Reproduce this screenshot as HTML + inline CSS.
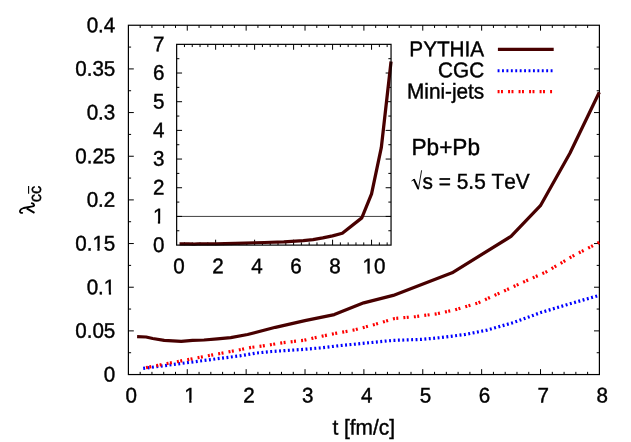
<!DOCTYPE html>
<html><head><meta charset="utf-8"><title>plot</title>
<style>html,body{margin:0;padding:0;background:#fff;}svg{display:block;will-change:transform;}text{font-family:"Liberation Sans",sans-serif;fill:#000;font-kerning:none;}</style></head><body>
<svg width="631" height="442" viewBox="0 0 631 442">
<rect x="0" y="0" width="631" height="442" fill="#ffffff"/>
<path d="M187.28 374.55v-5.4M187.28 25.25v5.4M246.15 374.55v-5.4M246.15 25.25v5.4M305.02 374.55v-5.4M305.02 25.25v5.4M363.90 374.55v-5.4M363.90 25.25v5.4M422.77 374.55v-5.4M422.77 25.25v5.4M481.65 374.55v-5.4M481.65 25.25v5.4M540.52 374.55v-5.4M540.52 25.25v5.4M140.18 374.55v-2.7M140.18 25.25v2.7M151.95 374.55v-2.7M151.95 25.25v2.7M163.73 374.55v-2.7M163.73 25.25v2.7M175.50 374.55v-2.7M175.50 25.25v2.7M199.05 374.55v-2.7M199.05 25.25v2.7M210.83 374.55v-2.7M210.83 25.25v2.7M222.60 374.55v-2.7M222.60 25.25v2.7M234.38 374.55v-2.7M234.38 25.25v2.7M257.93 374.55v-2.7M257.93 25.25v2.7M269.70 374.55v-2.7M269.70 25.25v2.7M281.48 374.55v-2.7M281.48 25.25v2.7M293.25 374.55v-2.7M293.25 25.25v2.7M316.80 374.55v-2.7M316.80 25.25v2.7M328.58 374.55v-2.7M328.58 25.25v2.7M340.35 374.55v-2.7M340.35 25.25v2.7M352.12 374.55v-2.7M352.12 25.25v2.7M375.68 374.55v-2.7M375.68 25.25v2.7M387.45 374.55v-2.7M387.45 25.25v2.7M399.23 374.55v-2.7M399.23 25.25v2.7M411.00 374.55v-2.7M411.00 25.25v2.7M434.55 374.55v-2.7M434.55 25.25v2.7M446.33 374.55v-2.7M446.33 25.25v2.7M458.10 374.55v-2.7M458.10 25.25v2.7M469.88 374.55v-2.7M469.88 25.25v2.7M493.43 374.55v-2.7M493.43 25.25v2.7M505.20 374.55v-2.7M505.20 25.25v2.7M516.98 374.55v-2.7M516.98 25.25v2.7M528.75 374.55v-2.7M528.75 25.25v2.7M552.30 374.55v-2.7M552.30 25.25v2.7M564.08 374.55v-2.7M564.08 25.25v2.7M575.85 374.55v-2.7M575.85 25.25v2.7M587.62 374.55v-2.7M587.62 25.25v2.7M128.40 330.89h5.4M599.40 330.89h-5.4M128.40 287.23h5.4M599.40 287.23h-5.4M128.40 243.56h5.4M599.40 243.56h-5.4M128.40 199.90h5.4M599.40 199.90h-5.4M128.40 156.24h5.4M599.40 156.24h-5.4M128.40 112.57h5.4M599.40 112.57h-5.4M128.40 68.91h5.4M599.40 68.91h-5.4M128.40 352.72h2.7M599.40 352.72h-2.7M128.40 309.06h2.7M599.40 309.06h-2.7M128.40 265.39h2.7M599.40 265.39h-2.7M128.40 221.73h2.7M599.40 221.73h-2.7M128.40 178.07h2.7M599.40 178.07h-2.7M128.40 134.41h2.7M599.40 134.41h-2.7M128.40 90.74h2.7M599.40 90.74h-2.7M128.40 47.08h2.7M599.40 47.08h-2.7" stroke="#000" stroke-width="1.0" fill="none"/>
<rect x="128.4" y="25.25" width="471.00" height="349.30" fill="none" stroke="#000" stroke-width="1.2"/>
<text transform="translate(115.30 381.50) rotate(0.03) scale(1.0 1.03)" font-size="20.6" text-anchor="end" stroke="#000" stroke-width="0.4" >0</text>
<text transform="translate(115.30 337.84) rotate(0.03) scale(1.0 1.03)" font-size="20.6" text-anchor="end" stroke="#000" stroke-width="0.4" >0.05</text>
<text transform="translate(115.30 294.18) rotate(0.03) scale(1.0 1.03)" font-size="20.6" text-anchor="end" stroke="#000" stroke-width="0.4" >0.1</text><g transform="translate(115.30 294.18) rotate(0.03) scale(1.0 1.03)"><rect x="-11.588" y="-2.539" width="5.091" height="4.539" fill="#fff"/><rect x="-4.236" y="-2.539" width="4.930" height="4.539" fill="#fff"/></g>
<text transform="translate(115.30 250.51) rotate(0.03) scale(1.0 1.03)" font-size="20.6" text-anchor="end" stroke="#000" stroke-width="0.4" >0.15</text><g transform="translate(115.30 250.51) rotate(0.03) scale(1.0 1.03)"><rect x="-23.044" y="-2.539" width="5.091" height="4.539" fill="#fff"/><rect x="-15.693" y="-2.539" width="4.930" height="4.539" fill="#fff"/></g>
<text transform="translate(115.30 206.85) rotate(0.03) scale(1.0 1.03)" font-size="20.6" text-anchor="end" stroke="#000" stroke-width="0.4" >0.2</text>
<text transform="translate(115.30 163.19) rotate(0.03) scale(1.0 1.03)" font-size="20.6" text-anchor="end" stroke="#000" stroke-width="0.4" >0.25</text>
<text transform="translate(115.30 119.52) rotate(0.03) scale(1.0 1.03)" font-size="20.6" text-anchor="end" stroke="#000" stroke-width="0.4" >0.3</text>
<text transform="translate(115.30 75.86) rotate(0.03) scale(1.0 1.03)" font-size="20.6" text-anchor="end" stroke="#000" stroke-width="0.4" >0.35</text>
<text transform="translate(115.30 32.20) rotate(0.03) scale(1.0 1.03)" font-size="20.6" text-anchor="end" stroke="#000" stroke-width="0.4" >0.4</text>
<text transform="translate(131.15 402.40) rotate(0.03) scale(1.0 1.03)" font-size="20.6" text-anchor="middle" stroke="#000" stroke-width="0.4" >0</text>
<text transform="translate(190.03 402.40) rotate(0.03) scale(1.0 1.03)" font-size="20.6" text-anchor="middle" stroke="#000" stroke-width="0.4" >1</text><g transform="translate(190.03 402.40) rotate(0.03) scale(1.0 1.03)"><rect x="-5.859" y="-2.539" width="5.091" height="4.539" fill="#fff"/><rect x="1.492" y="-2.539" width="4.930" height="4.539" fill="#fff"/></g>
<text transform="translate(248.90 402.40) rotate(0.03) scale(1.0 1.03)" font-size="20.6" text-anchor="middle" stroke="#000" stroke-width="0.4" >2</text>
<text transform="translate(307.77 402.40) rotate(0.03) scale(1.0 1.03)" font-size="20.6" text-anchor="middle" stroke="#000" stroke-width="0.4" >3</text>
<text transform="translate(366.65 402.40) rotate(0.03) scale(1.0 1.03)" font-size="20.6" text-anchor="middle" stroke="#000" stroke-width="0.4" >4</text>
<text transform="translate(425.52 402.40) rotate(0.03) scale(1.0 1.03)" font-size="20.6" text-anchor="middle" stroke="#000" stroke-width="0.4" >5</text>
<text transform="translate(484.40 402.40) rotate(0.03) scale(1.0 1.03)" font-size="20.6" text-anchor="middle" stroke="#000" stroke-width="0.4" >6</text>
<text transform="translate(543.27 402.40) rotate(0.03) scale(1.0 1.03)" font-size="20.6" text-anchor="middle" stroke="#000" stroke-width="0.4" >7</text>
<text transform="translate(602.15 402.40) rotate(0.03) scale(1.0 1.03)" font-size="20.6" text-anchor="middle" stroke="#000" stroke-width="0.4" >8</text>
<text transform="translate(363.70 434.40) rotate(0.03) scale(1.0 1.03)" font-size="20.85" text-anchor="middle" stroke="#000" stroke-width="0.4" >t [fm/c]</text>
<g transform="translate(34.8 213.8) rotate(-90)"><text transform="translate(11.50 6.30) rotate(0.03) scale(1.0 1.03)" font-size="16.7" text-anchor="start" stroke="#000" stroke-width="0.4" >cc</text><path d="M20.0 -6.2h7.9" stroke="#000" stroke-width="1.1" fill="none"/></g>
<path d="M22.2 212.8C20.9 213.0 19.8 212.3 19.9 211.1C20.1 209.9 21.6 208.7 23.7 208.0L32.4 206.4C33.8 206.1 34.4 205.5 34.1 204.8C33.8 203.9 32.8 203.3 31.8 203.1" fill="none" stroke="#000" stroke-width="1.8" stroke-linecap="round" stroke-linejoin="round"/>
<path d="M26.7 208.4L34.5 212.8" fill="none" stroke="#000" stroke-width="1.9" stroke-linecap="butt"/>
<polyline points="137.10,336.60 146.10,337.00 152.70,338.50 164.20,340.30 181.20,341.30 192.60,340.40 204.00,340.00 217.40,338.90 230.70,337.60 247.60,334.50 275.40,327.30 304.90,320.60 334.30,314.60 363.75,302.85 393.20,295.40 452.10,272.80 511.00,236.40 540.40,205.70 569.90,153.20 599.30,92.20" fill="none" stroke="#480000" stroke-width="3.25" stroke-linejoin="round"/>
<polyline points="143.20,368.40 200.00,361.00 240.00,355.80 255.80,353.10 271.70,351.50 287.50,350.40 303.40,349.40 319.20,348.00 340.00,345.60 360.40,343.60 392.70,340.40 421.30,339.40 440.00,337.70 465.40,334.40 487.00,330.10 513.60,322.50 541.50,312.30 566.90,304.70 599.30,295.30" fill="none" stroke="#0000ff" stroke-width="3.2" stroke-dasharray="1.9 2.52"/>
<polyline points="146.00,367.60 200.00,357.30 240.00,349.70 251.10,347.40 262.20,346.00 272.50,344.40 282.80,342.80 293.10,341.50 303.40,340.40 313.70,338.00 324.00,335.80 334.80,333.50 354.70,329.90 375.60,324.20 394.60,318.50 415.60,316.60 436.50,313.80 455.20,309.80 478.10,302.90 507.30,289.50 523.80,281.90 546.60,271.70 572.00,256.50 599.30,242.30" fill="none" stroke="#ff0000" stroke-width="3.2" stroke-dasharray="1.95 1.45 1.95 5.15"/>
<text transform="translate(484.20 56.25) rotate(0.03) scale(1.0 1.03)" font-size="20.75" text-anchor="end" stroke="#000" stroke-width="0.4" >PYTHIA</text>
<text transform="translate(484.20 77.35) rotate(0.03) scale(1.0 1.03)" font-size="20.75" text-anchor="end" stroke="#000" stroke-width="0.4" >CGC</text>
<text transform="translate(484.20 98.50) rotate(0.03) scale(1.0 1.03)" font-size="20.75" text-anchor="end" stroke="#000" stroke-width="0.4" >Mini-jets</text>
<path d="M497.9 49.45H553.7" stroke="#480000" stroke-width="3.25" fill="none"/>
<path d="M497.6 70.75H553.7" stroke="#0000ff" stroke-width="3.2" stroke-dasharray="1.9 2.52" fill="none"/>
<path d="M497.6 91.7H552.4" stroke="#ff0000" stroke-width="3.2" stroke-dasharray="1.95 1.45 1.95 5.15" fill="none"/>
<text transform="translate(411.50 155.00) rotate(0.03) scale(1.0 1.03)" font-size="22.6" text-anchor="start" stroke="#000" stroke-width="0.4" >Pb+Pb</text>
<text transform="translate(422.60 188.80) rotate(0.03) scale(1.0 1.03)" font-size="20.85" text-anchor="start" stroke="#000" stroke-width="0.4" >s = 5.5 TeV</text>
<path d="M411.5 181.0L414.0 179.3" stroke="#000" stroke-width="1.0" fill="none"/>
<path d="M413.8 179.2L418.3 188.9" stroke="#000" stroke-width="2.0" fill="none"/>
<path d="M418.3 189.6L421.6 170.3" stroke="#000" stroke-width="0.9" fill="none"/>
<rect x="176.65" y="44.35" width="214.40" height="200.75" fill="#fff" stroke="none"/>
<path d="M215.63 245.10v-5.4M215.63 44.35v5.4M254.61 245.10v-5.4M254.61 44.35v5.4M293.60 245.10v-5.4M293.60 44.35v5.4M332.58 245.10v-5.4M332.58 44.35v5.4M371.56 245.10v-5.4M371.56 44.35v5.4M184.45 245.10v-2.7M184.45 44.35v2.7M192.24 245.10v-2.7M192.24 44.35v2.7M200.04 245.10v-2.7M200.04 44.35v2.7M207.84 245.10v-2.7M207.84 44.35v2.7M223.43 245.10v-2.7M223.43 44.35v2.7M231.22 245.10v-2.7M231.22 44.35v2.7M239.02 245.10v-2.7M239.02 44.35v2.7M246.82 245.10v-2.7M246.82 44.35v2.7M262.41 245.10v-2.7M262.41 44.35v2.7M270.21 245.10v-2.7M270.21 44.35v2.7M278.00 245.10v-2.7M278.00 44.35v2.7M285.80 245.10v-2.7M285.80 44.35v2.7M301.39 245.10v-2.7M301.39 44.35v2.7M309.19 245.10v-2.7M309.19 44.35v2.7M316.98 245.10v-2.7M316.98 44.35v2.7M324.78 245.10v-2.7M324.78 44.35v2.7M340.37 245.10v-2.7M340.37 44.35v2.7M348.17 245.10v-2.7M348.17 44.35v2.7M355.97 245.10v-2.7M355.97 44.35v2.7M363.76 245.10v-2.7M363.76 44.35v2.7M379.36 245.10v-2.7M379.36 44.35v2.7M387.15 245.10v-2.7M387.15 44.35v2.7M176.65 216.42h5.4M391.05 216.42h-5.4M176.65 187.74h5.4M391.05 187.74h-5.4M176.65 159.06h5.4M391.05 159.06h-5.4M176.65 130.39h5.4M391.05 130.39h-5.4M176.65 101.71h5.4M391.05 101.71h-5.4M176.65 73.03h5.4M391.05 73.03h-5.4M176.65 230.76h2.7M391.05 230.76h-2.7M176.65 202.08h2.7M391.05 202.08h-2.7M176.65 173.40h2.7M391.05 173.40h-2.7M176.65 144.72h2.7M391.05 144.72h-2.7M176.65 116.05h2.7M391.05 116.05h-2.7M176.65 87.37h2.7M391.05 87.37h-2.7M176.65 58.69h2.7M391.05 58.69h-2.7" stroke="#000" stroke-width="1.0" fill="none"/>
<path d="M176.65 216.42H391.05" stroke="#000" stroke-width="0.75" fill="none"/>
<polyline points="179.53,243.85 182.51,243.87 184.69,243.92 188.50,243.98 194.13,244.01 197.90,243.98 201.68,243.97 206.11,243.93 210.52,243.89 216.11,243.78 225.32,243.55 235.08,243.33 244.81,243.13 254.56,242.75 264.31,242.50 283.81,241.76 303.31,240.56 313.04,239.55 322.81,237.83 332.54,235.83 342.32,233.30 361.81,217.90 371.56,193.80 381.30,147.70 391.05,61.50" fill="none" stroke="#480000" stroke-width="3.25" stroke-linejoin="round"/>
<rect x="176.65" y="44.35" width="214.40" height="200.75" fill="none" stroke="#000" stroke-width="1.2"/>
<text transform="translate(164.40 251.90) rotate(0.03) scale(1.0 1.03)" font-size="20.6" text-anchor="end" stroke="#000" stroke-width="0.4" >0</text>
<text transform="translate(164.40 223.22) rotate(0.03) scale(1.0 1.03)" font-size="20.6" text-anchor="end" stroke="#000" stroke-width="0.4" >1</text><g transform="translate(164.40 223.22) rotate(0.03) scale(1.0 1.03)"><rect x="-11.588" y="-2.539" width="5.091" height="4.539" fill="#fff"/><rect x="-4.236" y="-2.539" width="4.930" height="4.539" fill="#fff"/></g>
<text transform="translate(164.40 194.54) rotate(0.03) scale(1.0 1.03)" font-size="20.6" text-anchor="end" stroke="#000" stroke-width="0.4" >2</text>
<text transform="translate(164.40 165.86) rotate(0.03) scale(1.0 1.03)" font-size="20.6" text-anchor="end" stroke="#000" stroke-width="0.4" >3</text>
<text transform="translate(164.40 137.19) rotate(0.03) scale(1.0 1.03)" font-size="20.6" text-anchor="end" stroke="#000" stroke-width="0.4" >4</text>
<text transform="translate(164.40 108.51) rotate(0.03) scale(1.0 1.03)" font-size="20.6" text-anchor="end" stroke="#000" stroke-width="0.4" >5</text>
<text transform="translate(164.40 79.83) rotate(0.03) scale(1.0 1.03)" font-size="20.6" text-anchor="end" stroke="#000" stroke-width="0.4" >6</text>
<text transform="translate(164.40 51.15) rotate(0.03) scale(1.0 1.03)" font-size="20.6" text-anchor="end" stroke="#000" stroke-width="0.4" >7</text>
<text transform="translate(179.10 273.35) rotate(0.03) scale(1.0 1.03)" font-size="20.6" text-anchor="middle" stroke="#000" stroke-width="0.4" >0</text>
<text transform="translate(218.08 273.35) rotate(0.03) scale(1.0 1.03)" font-size="20.6" text-anchor="middle" stroke="#000" stroke-width="0.4" >2</text>
<text transform="translate(257.06 273.35) rotate(0.03) scale(1.0 1.03)" font-size="20.6" text-anchor="middle" stroke="#000" stroke-width="0.4" >4</text>
<text transform="translate(296.05 273.35) rotate(0.03) scale(1.0 1.03)" font-size="20.6" text-anchor="middle" stroke="#000" stroke-width="0.4" >6</text>
<text transform="translate(335.03 273.35) rotate(0.03) scale(1.0 1.03)" font-size="20.6" text-anchor="middle" stroke="#000" stroke-width="0.4" >8</text>
<text transform="translate(374.01 273.35) rotate(0.03) scale(1.0 1.03)" font-size="20.6" text-anchor="middle" stroke="#000" stroke-width="0.4" >10</text><g transform="translate(374.01 273.35) rotate(0.03) scale(1.0 1.03)"><rect x="-11.588" y="-2.539" width="5.091" height="4.539" fill="#fff"/><rect x="-4.236" y="-2.539" width="4.930" height="4.539" fill="#fff"/></g>
</svg></body></html>
